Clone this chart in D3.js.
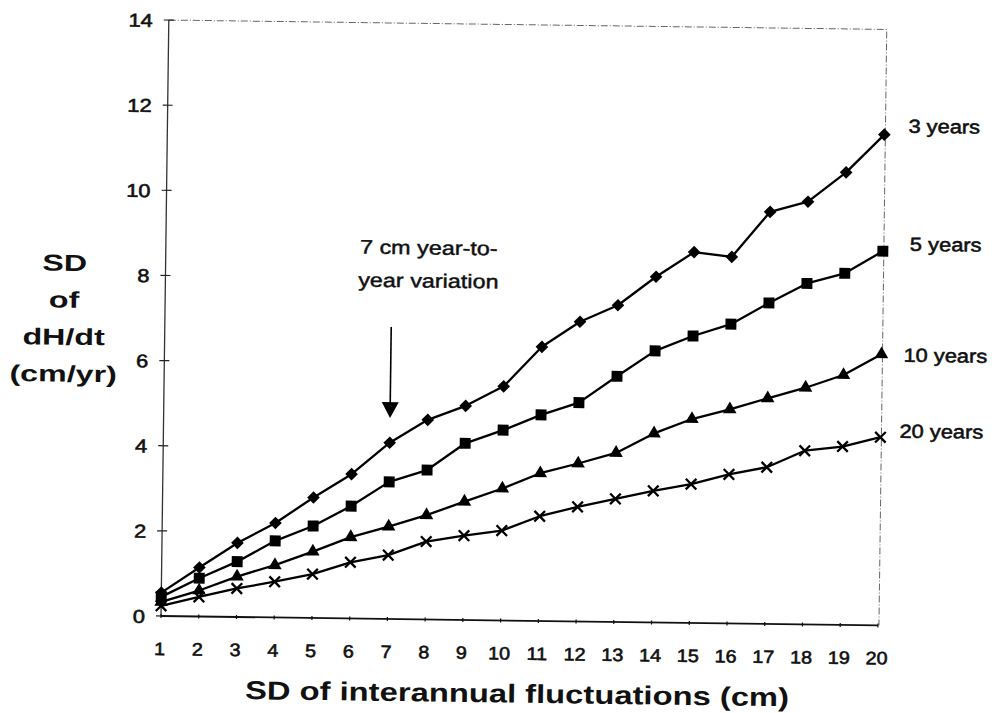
<!DOCTYPE html>
<html>
<head>
<meta charset="utf-8">
<script src="https://cdn.jsdelivr.net/npm/d3@7"></script>
<style>
  html, body { margin: 0; padding: 0; background: #fff; }
  svg { display: block; }
  text { font-family: "Liberation Sans", Arial, sans-serif; fill: #111; }
</style>
</head>
<body>
<svg id="chart" width="992" height="713"></svg>
<script>
// SD of interannual fluctuations (cm)
const fluctuations = [1, 2, 3, 4, 5, 6, 7, 8, 9, 10, 11, 12, 13, 14, 15, 16, 17, 18, 19, 20];

// SD of dH/dt (cm/yr) for each averaging period
const years3  = [0.55, 1.15, 1.74, 2.22, 2.83, 3.39, 4.14, 4.69, 5.03, 5.50, 6.44, 7.04, 7.44, 8.12, 8.71, 8.61, 9.68, 9.93, 10.63, 11.53];
const years5  = [0.45, 0.90, 1.30, 1.80, 2.16, 2.64, 3.22, 3.51, 4.15, 4.47, 4.84, 5.14, 5.77, 6.38, 6.74, 7.03, 7.54, 8.01, 8.26, 8.79];
const years10 = [0.33, 0.61, 0.95, 1.23, 1.56, 1.91, 2.17, 2.45, 2.78, 3.10, 3.47, 3.71, 3.97, 4.44, 4.79, 5.03, 5.30, 5.56, 5.87, 6.37];
const years20 = [0.24, 0.46, 0.67, 0.84, 1.03, 1.32, 1.50, 1.83, 1.98, 2.11, 2.46, 2.69, 2.89, 3.09, 3.26, 3.50, 3.68, 4.08, 4.19, 4.42];

const seriesNames = ["3 years", "5 years", "10 years", "20 years"];
const yTicks = [0, 2, 4, 6, 8, 10, 12, 14];

// annotation: arrow at 7 cm
const arrowX = 7;
const arrowFrom = 6.86;
const arrowTo = 4.72;

const svg = d3.select("#chart");
const plotLeft = 161, plotRight = 878, plotTop = 20, plotBottom = 616;

const x = d3.scaleLinear().domain([1, 20]).range([plotLeft, plotRight]);
const y = d3.scaleLinear().domain([0, 14]).range([plotBottom, plotTop]);

// the whole figure sits slightly tilted
const g = svg.append("g").attr("transform", `rotate(0.75, ${plotLeft}, ${plotBottom})`);

// stretched text helper
function label(parent, str, px, py, opts) {
  const t = parent.append("text")
    .attr("transform", `translate(${px},${py}) scale(${opts.sx || 1},1)`)
    .attr("text-anchor", opts.anchor || "start")
    .style("font-size", opts.size + "px")
    .style("font-weight", opts.weight || "normal")
    .text(str);
  if (opts.stroke) t.style("stroke", "#111").style("stroke-width", opts.stroke);
  return t;
}

// frame: dotted top and right edges
g.append("path")
  .attr("d", `M${plotLeft},${plotTop} H${plotRight + 1} V${plotBottom}`)
  .attr("fill", "none")
  .attr("stroke", "#666")
  .attr("stroke-width", 1)
  .attr("stroke-dasharray", "7,2,1,2");

// left axis
g.append("line").attr("x1", plotLeft).attr("x2", plotLeft).attr("y1", plotBottom).attr("y2", plotTop)
  .attr("stroke", "#333").attr("stroke-width", 1.3);
g.selectAll(".ytick").data(yTicks).join("line")
  .attr("x1", plotLeft - 5).attr("x2", plotLeft + 5)
  .attr("y1", d => y(d)).attr("y2", d => y(d))
  .attr("stroke", "#222").attr("stroke-width", 1.2);
g.selectAll(".ylab").data(yTicks).join("text")
  .attr("transform", d => `translate(${plotLeft - 16},${y(d) + 7}) scale(1.18,1)`)
  .attr("text-anchor", "end")
  .style("font-size", "18.5px")
  .style("stroke", "#111").style("stroke-width", 0.6)
  .text(d => d);

// bottom axis
g.append("line").attr("x1", plotLeft).attr("x2", plotRight).attr("y1", plotBottom).attr("y2", plotBottom)
  .attr("stroke", "#111").attr("stroke-width", 1.8);
g.selectAll(".xtick").data(fluctuations).join("line")
  .attr("x1", d => x(d)).attr("x2", d => x(d))
  .attr("y1", plotBottom - 2).attr("y2", plotBottom + 2)
  .attr("stroke", "#111").attr("stroke-width", 1.2);
g.selectAll(".xlab").data(fluctuations).join("text")
  .attr("transform", d => `translate(${x(d) - 1},${plotBottom + 39}) scale(1.1,1)`)
  .attr("text-anchor", "middle")
  .style("font-size", "18px")
  .style("stroke", "#111").style("stroke-width", 0.6)
  .text(d => d);

// axis titles
label(g, "SD of interannual fluctuations (cm)", 518, 698, { size: 26, weight: "bold", sx: 1.26, anchor: "middle" });
const yTitle = ["SD", "of", "dH/dt", "(cm/yr)"];
yTitle.forEach((s, i) => label(g, s, 60, 272 + i * 37, { size: 23, weight: "bold", sx: 1.4, anchor: "middle" }));

// series lines and markers
const series = [years3, years5, years10, years20];
const line = d3.line().x((d, i) => x(fluctuations[i])).y(d => y(d));
series.forEach(vals => {
  g.append("path").datum(vals)
    .attr("d", line)
    .attr("fill", "none")
    .attr("stroke", "#000")
    .attr("stroke-width", 2.3)
    .attr("stroke-linejoin", "round");
});

const markers = [
  { type: d3.symbolSquare, size: 80, rot: 45, fill: "#000", stroke: "none" },
  { type: d3.symbolSquare, size: 120, rot: 0, fill: "#000", stroke: "none" },
  { type: d3.symbolTriangle, size: 80, rot: 0, fill: "#000", stroke: "none" },
  { type: d3.symbolTimes, size: 75, rot: 0, fill: "none", stroke: "#000" }
];
series.forEach((vals, si) => {
  const m = markers[si];
  const sym = d3.symbol().type(m.type).size(m.size);
  g.selectAll(null).data(vals).join("path")
    .attr("transform", (d, i) => `translate(${x(fluctuations[i])},${y(d)}) rotate(${m.rot})`)
    .attr("d", sym)
    .attr("fill", m.fill)
    .attr("stroke", m.stroke)
    .attr("stroke-width", 2.3);
});

// series labels at the right end
const seriesLabelPos = [[902, 123], [905, 241], [900, 352], [897, 428]];
seriesNames.forEach((s, i) => label(g, s, seriesLabelPos[i][0], seriesLabelPos[i][1],
  { size: 19, sx: 1.15, stroke: 0.55 }));

// annotation arrow and text
const ax = x(arrowX);
g.append("line")
  .attr("x1", ax).attr("x2", ax)
  .attr("y1", y(arrowFrom)).attr("y2", y(arrowTo) - 14)
  .attr("stroke", "#000").attr("stroke-width", 1.6);
g.append("path")
  .attr("d", `M${ax - 8.5},${y(arrowTo) - 16} L${ax + 8.5},${y(arrowTo) - 16} L${ax},${y(arrowTo)} Z`)
  .attr("fill", "#000");
label(g, "7 cm year-to-", 424, 251, { size: 19.5, sx: 1.2, anchor: "middle", stroke: 0.45 });
label(g, "year variation", 424, 284, { size: 19.5, sx: 1.2, anchor: "middle", stroke: 0.45 });
</script>
</body>
</html>
